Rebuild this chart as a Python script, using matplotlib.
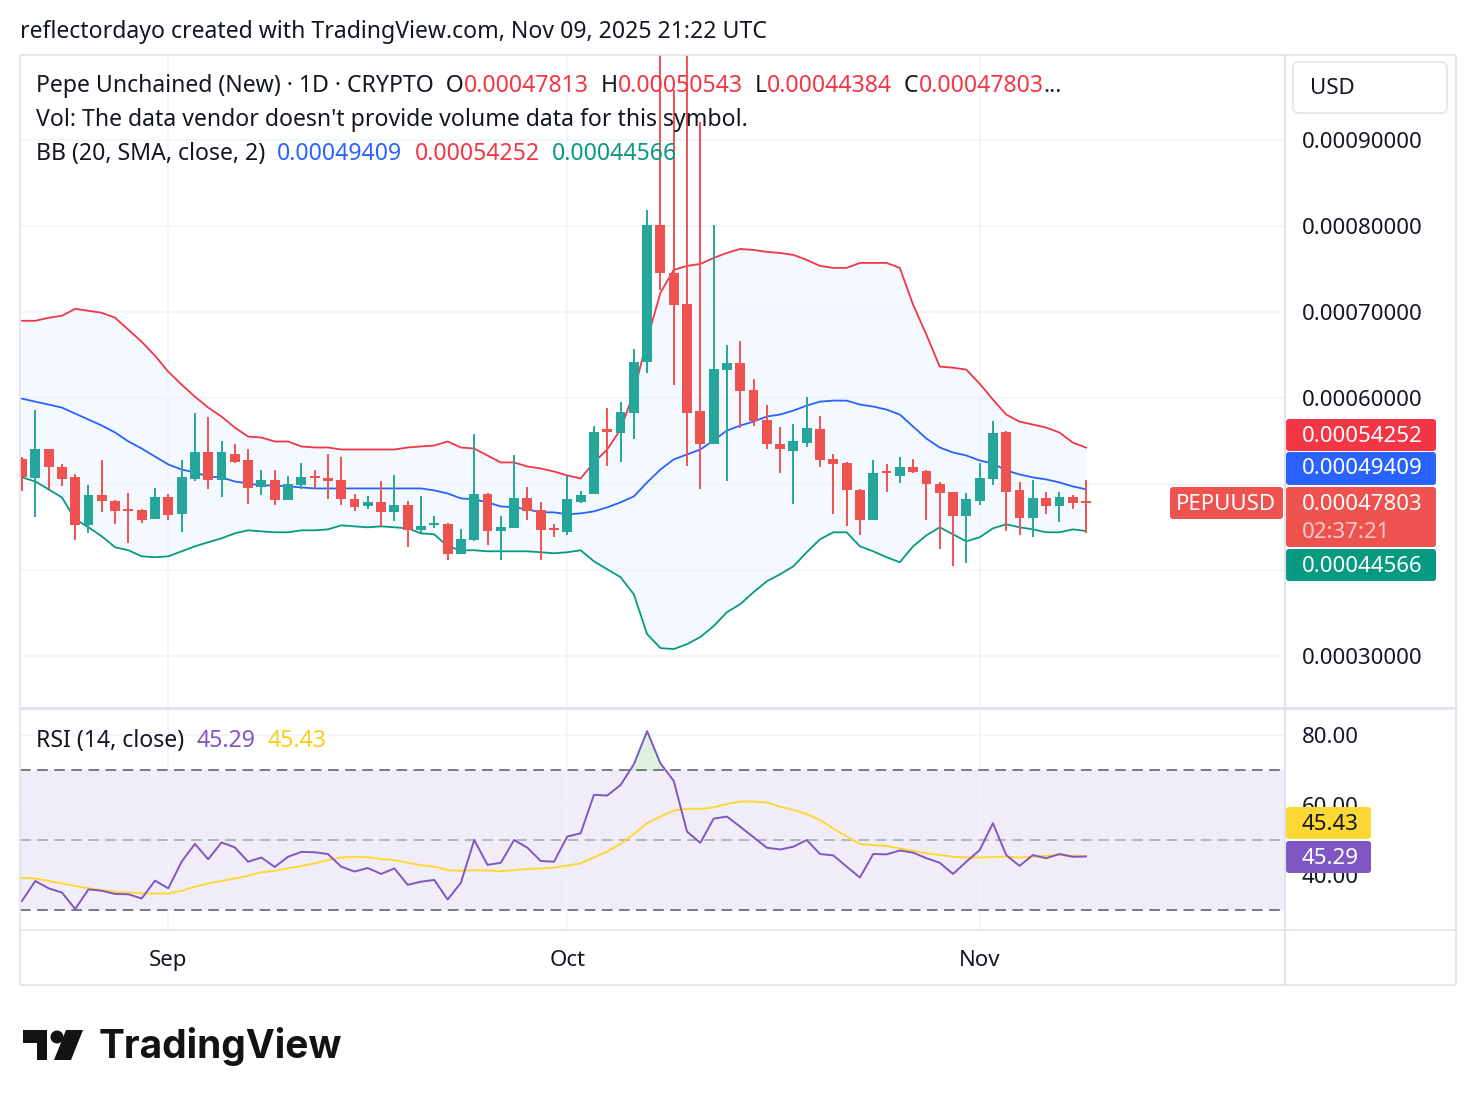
import numpy as np
import matplotlib
matplotlib.use("Agg")
import matplotlib.pyplot as plt
from matplotlib.patches import FancyBboxPatch, Polygon, Circle
import pandas as pd

plt.rcParams['font.family'] = ['Noto Sans', 'DejaVu Sans']

UNIT = 1e-4  # price values below are in units of 0.0001 USD

dates = pd.date_range("2025-08-21", "2025-11-09", freq="D")

open_ = [5.299, 5.067, 5.415, 5.195, 5.079, 4.522, 4.870, 4.800, 4.696, 4.696,
         4.592, 4.847, 4.650, 5.056, 5.380, 5.044, 5.357, 5.276, 4.963, 5.044,
         4.812, 4.986, 5.090, 5.067, 5.044, 4.824, 4.742, 4.789, 4.673, 4.754,
         4.464, 4.522, 4.534, 4.186, 4.348, 4.882, 4.452, 4.487, 4.835, 4.696,
         4.475, 4.441, 4.789, 4.882, 5.624, 5.601, 5.833, 6.424, 8.014, 7.457,
         7.097, 5.856, 5.462, 6.332, 6.413, 6.100, 5.752, 5.462, 5.392, 5.485,
         5.647, 5.288, 5.241, 4.928, 4.580, 5.137, 5.090, 5.195, 5.148, 4.998,
         4.905, 4.626, 4.800, 5.056, 5.612, 4.928, 4.603, 4.835, 4.742, 4.847,
         4.7813]
high = [5.322, 5.868, 5.415, 5.230, 5.114, 4.986, 5.276, 4.812, 4.893, 4.708,
        4.951, 4.882, 5.276, 5.833, 5.787, 5.497, 5.473, 5.404, 5.171, 5.160,
        5.090, 5.241, 5.160, 5.357, 5.322, 4.882, 4.858, 5.032, 5.102, 4.800,
        4.858, 4.626, 4.545, 4.475, 5.589, 4.893, 4.626, 5.334, 4.963, 4.789,
        4.534, 5.090, 4.916, 5.682, 5.891, 5.960, 6.575, 8.188, 10.500, 9.580,
        10.300, 9.209, 8.014, 6.622, 6.668, 6.227, 5.926, 5.670, 5.705, 6.018,
        5.798, 5.357, 5.253, 4.940, 5.276, 5.230, 5.311, 5.299, 5.171, 5.021,
        4.905, 4.893, 5.241, 5.740, 5.624, 5.021, 5.044, 4.905, 4.905, 4.870,
        5.0543]
low = [4.916, 4.615, 4.940, 4.975, 4.348, 4.429, 4.673, 4.534, 4.313, 4.545,
       4.592, 4.580, 4.441, 5.032, 4.940, 4.847, 5.241, 4.766, 4.870, 4.754,
       4.812, 4.940, 4.940, 4.824, 4.754, 4.684, 4.708, 4.510, 4.568, 4.267,
       4.429, 4.487, 4.116, 4.186, 4.336, 4.290, 4.116, 4.487, 4.580, 4.116,
       4.383, 4.406, 4.777, 4.882, 5.206, 5.264, 5.531, 6.297, 7.260, 6.158,
       5.206, 4.940, 5.462, 5.032, 5.659, 5.682, 5.404, 5.125, 4.766, 5.427,
       5.195, 4.650, 4.510, 4.406, 4.580, 4.905, 5.009, 5.125, 4.580, 4.243,
       4.046, 4.081, 4.754, 4.986, 4.452, 4.406, 4.383, 4.650, 4.557, 4.708,
       4.4384]
close = [5.079, 5.415, 5.195, 5.056, 4.522, 4.870, 4.800, 4.684, 4.684, 4.580,
         4.847, 4.638, 5.079, 5.380, 5.044, 5.380, 5.264, 4.951, 5.044, 4.812,
         4.998, 5.079, 5.067, 5.032, 4.824, 4.731, 4.789, 4.673, 4.754, 4.464,
         4.510, 4.545, 4.186, 4.360, 4.882, 4.452, 4.499, 4.835, 4.684, 4.464,
         4.464, 4.824, 4.870, 5.612, 5.612, 5.845, 6.424, 8.014, 7.457, 7.086,
         5.833, 5.462, 6.343, 6.413, 6.088, 5.740, 5.462, 5.404, 5.497, 5.659,
         5.276, 5.230, 4.928, 4.580, 5.125, 5.125, 5.195, 5.137, 4.998, 4.893,
         4.626, 4.824, 5.067, 5.601, 4.905, 4.603, 4.835, 4.742, 4.847, 4.777,
         4.7803]

bb_upper = [6.900, 6.900, 6.935, 6.958, 7.039, 7.016, 6.993, 6.935, 6.796, 6.656,
            6.494, 6.308, 6.158, 6.018, 5.891, 5.787, 5.659, 5.554, 5.543, 5.497,
            5.497, 5.439, 5.427, 5.427, 5.404, 5.404, 5.404, 5.404, 5.404, 5.427,
            5.439, 5.450, 5.497, 5.427, 5.415, 5.334, 5.253, 5.253, 5.206, 5.183,
            5.148, 5.102, 5.067, 5.253, 5.404, 5.636, 6.065, 6.680, 7.225, 7.492,
            7.538, 7.561, 7.631, 7.689, 7.735, 7.724, 7.701, 7.689, 7.666, 7.608,
            7.538, 7.515, 7.515, 7.573, 7.573, 7.573, 7.515, 7.086, 6.738, 6.367,
            6.355, 6.332, 6.169, 5.984, 5.810, 5.728, 5.694, 5.659, 5.601, 5.485,
            5.4252]
bb_basis = [5.995, 5.960, 5.926, 5.891, 5.821, 5.752, 5.682, 5.601, 5.497, 5.415,
            5.322, 5.230, 5.171, 5.137, 5.090, 5.079, 5.032, 5.009, 4.986, 4.986,
            4.975, 4.963, 4.951, 4.951, 4.951, 4.951, 4.951, 4.951, 4.951, 4.951,
            4.951, 4.928, 4.893, 4.835, 4.824, 4.789, 4.742, 4.731, 4.708, 4.673,
            4.673, 4.650, 4.661, 4.684, 4.731, 4.789, 4.858, 5.021, 5.171, 5.288,
            5.346, 5.404, 5.508, 5.624, 5.682, 5.728, 5.787, 5.810, 5.856, 5.914,
            5.960, 5.972, 5.972, 5.926, 5.903, 5.868, 5.810, 5.670, 5.531, 5.427,
            5.369, 5.334, 5.276, 5.241, 5.160, 5.114, 5.079, 5.056, 5.021, 4.975,
            4.9409]
bb_lower = [5.079, 5.032, 4.940, 4.847, 4.592, 4.499, 4.394, 4.267, 4.232, 4.162,
            4.151, 4.162, 4.220, 4.278, 4.325, 4.371, 4.429, 4.464, 4.452, 4.441,
            4.441, 4.464, 4.464, 4.475, 4.522, 4.510, 4.499, 4.510, 4.499, 4.487,
            4.429, 4.417, 4.278, 4.232, 4.232, 4.220, 4.220, 4.220, 4.220, 4.209,
            4.197, 4.209, 4.232, 4.104, 4.011, 3.919, 3.721, 3.257, 3.095, 3.083,
            3.141, 3.223, 3.350, 3.512, 3.605, 3.745, 3.872, 3.953, 4.046, 4.209,
            4.360, 4.441, 4.441, 4.278, 4.220, 4.151, 4.093, 4.278, 4.406, 4.499,
            4.417, 4.336, 4.383, 4.487, 4.534, 4.499, 4.475, 4.441, 4.441, 4.475,
            4.4566]

rsi = [32.6, 38.3, 36.2, 35.0, 30.3, 35.9, 35.5, 34.6, 34.5, 33.3,
       38.4, 36.2, 43.8, 48.9, 44.5, 49.3, 47.9, 43.8, 45.0, 42.3,
       45.2, 46.6, 46.5, 46.0, 42.4, 41.0, 42.0, 40.3, 41.9, 37.2,
       38.1, 38.6, 33.0, 37.8, 50.0, 42.9, 43.5, 50.0, 47.8, 44.0,
       43.8, 51.0, 51.9, 62.9, 62.7, 65.7, 71.6, 81.1, 71.9, 66.9,
       52.4, 49.2, 56.1, 56.7, 53.8, 50.8, 47.8, 47.3, 48.1, 50.0,
       46.0, 45.6, 42.4, 39.3, 46.0, 45.9, 47.0, 46.4, 44.8, 43.5,
       40.3, 43.8, 47.1, 54.8, 45.7, 42.6, 45.7, 44.8, 46.0, 45.2,
       45.29]
rsi_ma = [39.2, 39.0, 38.3, 37.6, 36.9, 36.2, 35.7, 35.2, 35.0, 34.8,
          34.7, 34.7, 35.5, 36.7, 37.6, 38.3, 39.0, 39.8, 40.8, 41.2,
          41.9, 42.6, 43.3, 44.3, 45.0, 45.2, 45.1, 44.5, 44.3, 43.5,
          42.8, 42.4, 41.4, 41.2, 41.4, 41.3, 41.1, 41.4, 41.7, 41.9,
          42.1, 42.7, 43.3, 45.0, 46.7, 48.9, 51.7, 54.8, 56.7, 58.4,
          58.9, 58.9, 59.3, 60.3, 61.0, 61.0, 60.7, 59.5, 58.6, 57.4,
          55.7, 53.3, 51.0, 48.9, 48.5, 48.3, 47.6, 46.9, 46.2, 45.7,
          45.2, 45.0, 45.0, 45.2, 45.2, 45.0, 45.2, 45.5, 45.7, 45.5,
          45.43]

price_ticks = [3, 4, 5, 6, 7, 8, 9]
hidden_price_ticks = [4, 5]
rsi_ticks = [40, 60, 80]
rsi_levels = [70, 50, 30]

# ---------------------------------------------------------------- figure
W, H = 1476, 1106
fig = plt.figure(figsize=(W / 100, H / 100), dpi=100)
fig.patch.set_facecolor("white")

def frac(x0, y0, x1, y1):
    return [x0 / W, 1 - y1 / H, (x1 - x0) / W, (y1 - y0) / H]

DARK = "#131722"
UP, DOWN = "#26A69A", "#EF5350"
GRID = "#F0F3FA"
FS = 16
FSH = 16.6

o = np.array(open_) * UNIT
h = np.array(high) * UNIT
l = np.array(low) * UNIT
c = np.array(close) * UNIT
up = np.array(bb_upper) * UNIT
mid = np.array(bb_basis) * UNIT
lo = np.array(bb_lower) * UNIT
x = np.arange(len(dates))
month_idx = [i for i, d in enumerate(dates) if d.day == 1]
month_lbl = [dates[i].strftime("%b") for i in month_idx]

XL = (-0.15, 94.96)

ax = fig.add_axes(frac(20, 55, 1285, 707))
ax.set_xlim(*XL)
ax.set_ylim(2.41 * UNIT, 9.99 * UNIT)
ax.fill_between(x, lo, up, color="#2196F3", alpha=0.05, lw=0, zorder=1)
ax.plot(x, up, color="#F23645", lw=1.3, zorder=2)
ax.plot(x, mid, color="#2962FF", lw=1.3, zorder=2)
ax.plot(x, lo, color="#089981", lw=1.3, zorder=2)
cols = [UP if cc >= oo else DOWN for oo, cc in zip(o, c)]
ax.vlines(x, l, h, colors=cols, lw=1.4, zorder=3)
body_h = np.maximum(np.abs(c - o), 0.025 * UNIT)
ax.bar(x, body_h, bottom=np.minimum(o, c), width=0.74, color=cols, lw=0, zorder=4)

ax.set_yticks([t * UNIT for t in price_ticks])
ax.set_yticklabels(["" if t in hidden_price_ticks else f"{t * UNIT:.8f}" for t in price_ticks])
ax.yaxis.tick_right()
ax.tick_params(axis="y", length=0, pad=12, labelsize=FS, labelcolor=DARK)
ax.set_xticks(month_idx)
ax.tick_params(axis="x", length=0, labelbottom=False)
ax.grid(True, color=GRID, lw=1.2, zorder=0)
for s in ax.spines.values():
    s.set_visible(False)

# ---------------------------------------------------------------- RSI pane
axr = fig.add_axes(frac(20, 708, 1285, 930))
axr.set_xlim(*XL)
axr.set_ylim(24.3, 87.7)
axr.axhspan(30, 70, color="#7E57C2", alpha=0.1, lw=0, zorder=1)
r = np.array(rsi)
axr.fill_between(x, 70, r, where=r > 70, interpolate=True, color="#4CAF50", alpha=0.18, lw=0, zorder=2)
for lev in rsi_levels:
    axr.axhline(lev, color="#787B86" if lev != 50 else "#B2B5BE", lw=1.4,
                ls=(0, (5.5, 3.3)), zorder=2)
axr.plot(x, rsi_ma, color="#FDD835", lw=1.4, zorder=3)
axr.plot(x, rsi, color="#7E57C2", lw=1.4, zorder=4)
axr.set_yticks(rsi_ticks)
axr.set_yticklabels([f"{t:.2f}" for t in rsi_ticks])
axr.yaxis.tick_right()
axr.tick_params(axis="y", length=0, pad=12, labelsize=FS, labelcolor=DARK)
axr.set_xticks(month_idx)
axr.set_xticklabels(month_lbl)
axr.tick_params(axis="x", length=0, pad=14.5, labelsize=FS, labelcolor=DARK)
for t in axr.get_xticklabels():
    t.set_fontweight("semibold")
axr.grid(True, color=GRID, lw=1.2, zorder=0)
for s in axr.spines.values():
    s.set_visible(False)

# ---------------------------------------------------------------- overlay (pixel coords)
ov = fig.add_axes([0, 0, 1, 1])
ov.set_xlim(0, W)
ov.set_ylim(H, 0)
ov.axis("off")
ov.patch.set_alpha(0)

BC = "#E0E3EB"
for (xa, xb, ya, yb, lw) in [(20, 1456, 55, 55, 1.2), (20, 1456, 707.5, 707.5, 2.0),
                             (20, 1456, 930, 930, 1.2), (20, 1456, 985, 985, 1.2),
                             (20, 20, 55, 985, 1.2), (1285, 1285, 55, 985, 1.5),
                             (1456, 1456, 55, 985, 1.2)]:
    ov.plot([xa, xb], [ya, yb], color=BC, lw=lw, solid_capstyle="butt")

def box(x0, y0, x1, y1, fc, ec="none", rs=3, lw=1):
    ov.add_patch(FancyBboxPatch((x0, y0), x1 - x0, y1 - y0,
                                boxstyle=f"round,pad=0,rounding_size={rs}",
                                fc=fc, ec=ec, lw=lw))

def label(xp, yp, s, color="white", ha="left", **kw):
    ov.text(xp, yp, s, color=color, fontsize=FS, va="center", ha=ha, **kw)

# price scale labels
box(1293, 62, 1447, 113, "white", ec=BC, rs=6, lw=1.2)
label(1310, 89, "USD", color=DARK)
box(1286, 419, 1436, 451, "#F23645")
label(1302, 436, f"{up[-1]:.8f}")
box(1286, 452, 1436, 485, "#2962FF")
label(1302, 469, f"{mid[-1]:.8f}")
box(1286, 487, 1436, 547, "#EF5350")
label(1302, 504, f"{c[-1]:.8f}")
label(1302, 532, "02:37:21", color=(1, 1, 1, 0.7))
box(1286, 549, 1436, 581, "#089981")
label(1302, 567, f"{lo[-1]:.8f}")
box(1170, 487, 1283, 519, "#EF5350")
label(1226, 504, "PEPUUSD", ha="center")
box(1286, 807, 1371, 839, "#FDD835")
label(1302, 824, f"{rsi_ma[-1]:.2f}", color=DARK)
box(1286, 841, 1371, 873, "#7E57C2")
label(1302, 858, f"{rsi[-1]:.2f}")

def chain(parts, xp, yp, fs=FSH, **kw):
    t = ov.text(xp, yp, parts[0][0], color=parts[0][1], fontsize=fs, va="center", ha="left", **kw)
    for s, col in parts[1:]:
        t = ov.annotate(s, xy=(1, 0), xycoords=t, va="bottom", ha="left", color=col, fontsize=fs, **kw)
    return t

RED = "#F23645"
chain([("reflectordayo created with TradingView.com, Nov 09, 2025 21:22 UTC", DARK)], 20, 32)
chain([("Pepe Unchained (New) · 1D · CRYPTO  O", DARK), (f"{o[-1]:.8f}", RED),
       ("  H", DARK), (f"{h[-1]:.8f}", RED), ("  L", DARK), (f"{l[-1]:.8f}", RED),
       ("  C", DARK), (f"{c[-1]:.8f}", RED), ("...", DARK)], 36, 86)
chain([("Vol: The data vendor doesn't provide volume data for this symbol.", DARK)], 36, 120)
chain([("BB (20, SMA, close, 2)  ", DARK), (f"{mid[-1]:.8f}", "#2962FF"), ("  ", DARK),
       (f"{up[-1]:.8f}", "#F23645"), ("  ", DARK), (f"{lo[-1]:.8f}", "#089981")], 36, 154)
chain([("RSI (14, close)  ", DARK), (f"{rsi[-1]:.2f}", "#7E57C2"), ("  ", DARK),
       (f"{rsi_ma[-1]:.2f}", "#F9CE1D")], 36, 741)

# TradingView logo
ov.add_patch(Polygon([(23, 1030), (47, 1030), (47, 1060), (37, 1060), (37, 1043), (23, 1043)],
                     closed=True, fc="#131313", ec="none"))
ov.add_patch(Circle((57, 1037), 6.5, fc="#131313", ec="none"))
ov.add_patch(Polygon([(66, 1030), (83, 1030), (71, 1060), (54, 1060)], closed=True, fc="#131313", ec="none"))
ov.text(99, 1047, "TradingView", fontsize=28, fontweight="bold", color="#131313", va="center", ha="left",
        family=["Inter", "DejaVu Sans"])

fig.savefig("out.png", dpi=100)
